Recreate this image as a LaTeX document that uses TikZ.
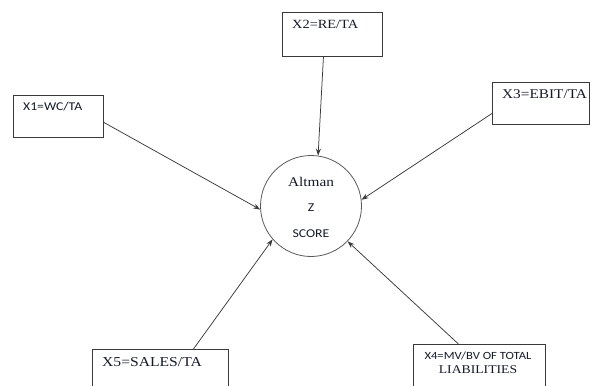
\documentclass[tikz,border=0pt]{standalone}
\usepackage{fontspec}
\setmainfont{Liberation Serif}[FakeStretch=1.15]
\newfontfamily\calfont{Carlito}[FakeStretch=1.15]
\usetikzlibrary{arrows.meta}
\definecolor{edge}{HTML}{3A3A3A}
\definecolor{ink}{HTML}{151A28}
\tikzset{
  varbox/.style={draw=edge, line width=0.9pt, rectangle, inner sep=0pt, fill=white},
  zcircle/.style={draw=edge!85, line width=0.8pt, circle, inner sep=0pt, minimum size=101pt},
  lbl/.style={inner sep=0pt, text=ink, anchor=west},
  link/.style={draw=edge, line width=0.75pt, -{Stealth[length=7pt,width=5pt]}},
}
\begin{document}
\begin{tikzpicture}[x=1pt,y=-1pt]
\useasboundingbox (0,0) rectangle (590,386);
\clip (0,0) rectangle (590,386);
% boxes
\node[varbox, anchor=north west, minimum width=90pt, minimum height=42pt] (b1) at (13,95) {};
\node[varbox, anchor=north west, minimum width=100pt, minimum height=44pt] (b2) at (282,12) {};
\node[varbox, anchor=north west, minimum width=97pt, minimum height=42pt] (b3) at (492,82) {};
\node[varbox, anchor=north west, minimum width=136pt, minimum height=45pt] (b5) at (92,349) {};
\node[varbox, anchor=north west, minimum width=132pt, minimum height=48pt] (b4) at (413,344) {};
% circle
\node[zcircle] (c) at (311,206) {};
% texts
\node[lbl] (t1) at ([shift={(10pt,-12pt)}]b1.north west) {\calfont\fontsize{11.9}{14}\selectfont X1=WC/TA};
\node[lbl] (t2) at ([shift={(10pt,-12pt)}]b2.north west) {\fontsize{12.5}{14}\selectfont X2=RE/TA};
\node[lbl] (t3) at ([shift={(10pt,-12pt)}]b3.north west) {\fontsize{13.3}{15}\selectfont X3=EBIT/TA};
\node[lbl] (t5) at ([shift={(10pt,-13pt)}]b5.north west) {\fontsize{13.6}{15}\selectfont X5=SALES/TA};
\node[inner sep=0pt, text=ink] (t4a) at (478,356) {\calfont\fontsize{11}{13}\selectfont X4=MV/BV OF TOTAL};
\node[inner sep=0pt, text=ink] (t4b) at (478,370) {\fontsize{11.9}{14}\selectfont LIABILITIES};
\node[inner sep=0pt, text=ink] (ta) at (311,182) {\fontsize{13.3}{15}\selectfont Altman};
\node[inner sep=0pt, text=ink] (tz) at (311,208) {\calfont\fontsize{12}{14}\selectfont Z};
\node[inner sep=0pt, text=ink] (ts) at (311,234) {\calfont\fontsize{12}{14}\selectfont SCORE};
% connectors
\draw[link] ([yshift=-6pt]b1.east) -- (c.184);
\draw[link] ([xshift=-9pt]b2.south) -- (c.82);
\draw[link] ([yshift=-10pt]b3.west) -- (c.7);
\draw[link] ([xshift=33pt]b5.north) -- (c.221);
\draw[link] ([xshift=-21pt]b4.north) -- (c.316);
\end{tikzpicture}
\end{document}
